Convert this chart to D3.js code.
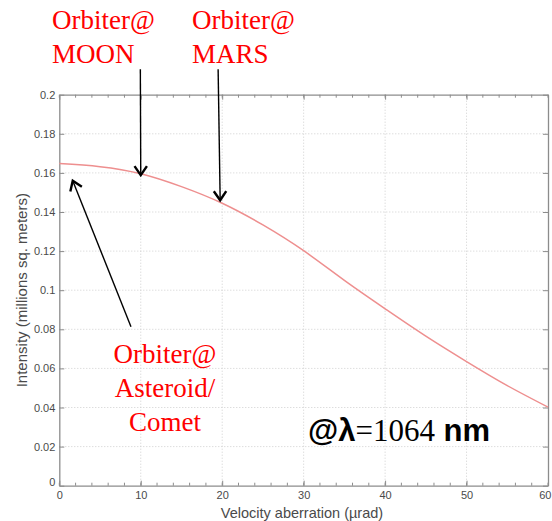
<!DOCTYPE html>
<html>
<head>
<meta charset="utf-8">
<script src="https://cdn.jsdelivr.net/npm/d3@7"></script>
<style>
  body { margin: 0; background: #fff; }
  svg { display: block; }
</style>
</head>
<body>
<div id="vis"></div>
<script>
// Frame
const FRAME_WIDTH = 552;
const FRAME_HEIGHT = 521;
const MARGINS = {left: 59.3, right: 4, top: 94.7, bottom: 35.3};
const VIS_WIDTH = FRAME_WIDTH - MARGINS.left - MARGINS.right;
const VIS_HEIGHT = FRAME_HEIGHT - MARGINS.top - MARGINS.bottom;

// Data
const velocity = [0, 5, 10, 15, 20, 25, 30, 35, 40, 45, 50, 55, 60];
const intensity = [0.1648, 0.1632, 0.1596, 0.1530, 0.1445, 0.1334, 0.1202, 0.1050, 0.0905, 0.0765, 0.0635, 0.0512, 0.0402];
const xTicks = [0, 10, 20, 30, 40, 50, 60];
const yTicks = [0, 0.02, 0.04, 0.06, 0.08, 0.1, 0.12, 0.14, 0.16, 0.18, 0.2];
const xMinor = d3.range(0, 61, 2);

// Annotations (arrow tip / tail in data units)
const arrows = [
  {tail: [9.95, 0.213], tip: [10.0, 0.1588]},
  {tail: [19.5, 0.213], tip: [19.75, 0.1460]},
  {tail: [8.8, 0.0813], tip: [1.65, 0.1560]}
];

const svg = d3.select("#vis")
  .append("svg")
    .attr("width", FRAME_WIDTH)
    .attr("height", FRAME_HEIGHT);

const X_SCALE = d3.scaleLinear().domain([0, 60]).range([MARGINS.left, MARGINS.left + VIS_WIDTH]);
const Y_SCALE = d3.scaleLinear().domain([0, 0.2]).range([MARGINS.top + VIS_HEIGHT, MARGINS.top]);

const AXIS_COLOR = "#8c8c8c";
const TEXT_COLOR = "#4a4a4a";

// grid lines
svg.append("g")
  .selectAll("line")
  .data(xTicks.slice(1, -1))
  .enter().append("line")
    .attr("x1", d => X_SCALE(d)).attr("x2", d => X_SCALE(d))
    .attr("y1", Y_SCALE(0)).attr("y2", Y_SCALE(0.2))
    .attr("stroke", "#cfcfcf").attr("stroke-dasharray", "1,2");

svg.append("g")
  .selectAll("line")
  .data(yTicks.slice(1, -1))
  .enter().append("line")
    .attr("x1", X_SCALE(0)).attr("x2", X_SCALE(60))
    .attr("y1", d => Y_SCALE(d)).attr("y2", d => Y_SCALE(d))
    .attr("stroke", "#cfcfcf").attr("stroke-dasharray", "1,2");

// axes (ticks inward, like matlab)
const xAxis = svg.append("g")
  .attr("transform", "translate(0," + Y_SCALE(0) + ")")
  .call(d3.axisBottom(X_SCALE).tickValues(xTicks).tickSizeInner(-5).tickSizeOuter(0).tickPadding(6));

const yAxis = svg.append("g")
  .attr("transform", "translate(" + X_SCALE(0) + ",0)")
  .call(d3.axisLeft(Y_SCALE).tickValues(yTicks).tickSizeInner(-5).tickSizeOuter(0)
        .tickPadding(4).tickFormat(d => d === 0 ? "0" : d3.format("")(+d.toFixed(2))));

// top + right axes (ticks only)
svg.append("g")
  .attr("transform", "translate(0," + Y_SCALE(0.2) + ")")
  .call(d3.axisTop(X_SCALE).tickValues(xTicks).tickSizeInner(-5).tickSizeOuter(0).tickFormat(""));

svg.append("g")
  .attr("transform", "translate(" + X_SCALE(60) + ",0)")
  .call(d3.axisRight(Y_SCALE).tickValues(yTicks).tickSizeInner(-5).tickSizeOuter(0).tickFormat(""));

// minor ticks on x (bottom and top)
[[Y_SCALE(0), -3], [Y_SCALE(0.2), 3]].forEach(([yy, len]) => {
  svg.append("g")
    .selectAll("line")
    .data(xMinor)
    .enter().append("line")
      .attr("x1", d => X_SCALE(d)).attr("x2", d => X_SCALE(d))
      .attr("y1", yy).attr("y2", yy + len)
      .attr("stroke", AXIS_COLOR);
});

svg.selectAll(".domain").attr("stroke", AXIS_COLOR).attr("stroke-width", 1.3);
svg.selectAll(".tick line").attr("stroke", AXIS_COLOR);
svg.selectAll(".tick text")
  .attr("fill", TEXT_COLOR)
  .attr("font-family", "Liberation Sans, Arial, sans-serif")
  .attr("font-size", "11px");

// nudge the y "0" like matlab
yAxis.selectAll(".tick text").filter(d => d === 0).attr("dy", "-0.05em");
// keep the last x label inside the frame
xAxis.selectAll(".tick text").filter(d => d === 60)
  .attr("text-anchor", "end").attr("x", FRAME_WIDTH - 1 - X_SCALE(60));

// axis labels
svg.append("text")
  .attr("x", 302).attr("y", 518)
  .attr("text-anchor", "middle")
  .attr("fill", TEXT_COLOR)
  .attr("font-family", "Liberation Sans, Arial, sans-serif")
  .attr("font-size", "14.5px")
  .text("Velocity aberration (\u00b5rad)");

svg.append("text")
  .attr("transform", "translate(27," + Y_SCALE(0.1) + ")rotate(-90)")
  .attr("text-anchor", "middle")
  .attr("fill", TEXT_COLOR)
  .attr("font-family", "Liberation Sans, Arial, sans-serif")
  .attr("font-size", "15px")
  .text("Intensity (millions sq. meters)");

// curve
const line = d3.line()
  .x((d, i) => X_SCALE(velocity[i]))
  .y(d => Y_SCALE(d))
  .curve(d3.curveNatural);

svg.append("path")
  .datum(intensity)
  .attr("d", line)
  .attr("fill", "none")
  .attr("stroke", "#ee8f8f")
  .attr("stroke-width", 1.5);

// arrows
arrows.forEach(a => {
  const x1 = X_SCALE(a.tail[0]), y1 = Y_SCALE(a.tail[1]);
  const x2 = X_SCALE(a.tip[0]), y2 = Y_SCALE(a.tip[1]);
  const ang = Math.atan2(y2 - y1, x2 - x1);
  const L = 11, spread = 0.6;
  svg.append("line")
    .attr("x1", x1).attr("y1", y1).attr("x2", x2).attr("y2", y2)
    .attr("stroke", "#000").attr("stroke-width", 1.4);
  const p1 = [x2 - L * Math.cos(ang - spread), y2 - L * Math.sin(ang - spread)];
  const p2 = [x2 - L * Math.cos(ang + spread), y2 - L * Math.sin(ang + spread)];
  svg.append("path")
    .attr("d", "M" + p1 + "L" + [x2, y2] + "L" + p2)
    .attr("fill", "none").attr("stroke", "#000")
    .attr("stroke-width", 2.4).attr("stroke-linejoin", "miter");
});

// red annotation text
function redLabel(x, y, lines, anchor) {
  const t = svg.append("text")
    .attr("fill", "#ff0000")
    .attr("font-family", "Liberation Serif, Times New Roman, serif")
    .attr("font-size", "27px")
    .attr("text-anchor", anchor);
  lines.forEach((s, i) => {
    t.append("tspan").attr("x", x).attr("y", y + i * 34).text(s);
  });
}
redLabel(52, 29, ["Orbiter@", "MOON"], "start");
redLabel(192, 29, ["Orbiter@", "MARS"], "start");
redLabel(165, 363, ["Orbiter@", "Asteroid/", "Comet"], "middle");

// wavelength label
const wl = svg.append("text")
  .attr("x", 308).attr("y", 441)
  .attr("fill", "#000")
  .attr("font-size", "31px");
wl.append("tspan").attr("font-family", "Liberation Sans, Arial, sans-serif").attr("font-weight", "bold").text("@\u03bb");
wl.append("tspan").attr("font-family", "Liberation Serif, Times New Roman, serif").text("=1064");
wl.append("tspan").attr("font-family", "Liberation Sans, Arial, sans-serif").attr("font-weight", "bold").text(" nm");
</script>
</body>
</html>
